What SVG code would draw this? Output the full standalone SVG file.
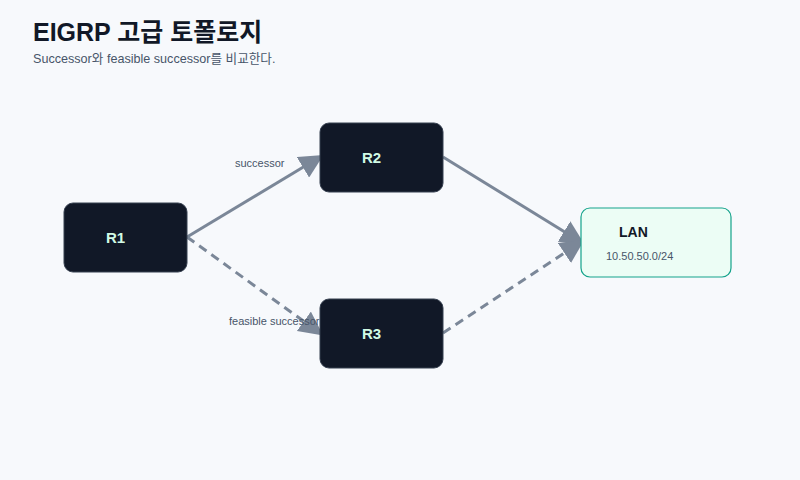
<svg xmlns="http://www.w3.org/2000/svg" width="800" height="480" viewBox="0 0 800 480">
<defs>
<style>
.t{font-family:"Liberation Sans","Noto Sans CJK KR",Arial,sans-serif}
.title{font-size:25px;font-weight:bold;fill:#111827}
.sub{font-size:12.6px;fill:#475569}
.rt{fill:#111827;stroke:#374151;stroke-width:1}
.rl{font-size:15px;font-weight:bold;fill:#d1fae5}
.lan{fill:#ecfdf5;stroke:#14a38b;stroke-width:1.2}
.ll{font-size:14px;font-weight:bold;fill:#111827}
.ls{font-size:11px;fill:#475569}
.e{stroke:#7b8798;stroke-width:3;fill:none;marker-end:url(#ah)}
.d{stroke-dasharray:9 6}
.el{font-size:11px;fill:#475569}
</style>
<marker id="ah" viewBox="0 0 10 10" refX="8.3" refY="5" markerWidth="8" markerHeight="8" orient="auto" markerUnits="strokeWidth">
<path d="M0,0 L10,5 L0,10 z" fill="#7b8798"/>
</marker>
</defs>
<rect width="800" height="480" fill="#f7f9fc"/>
<text class="t title" x="33" y="41">EIGRP 고급 토폴로지</text>
<text class="t sub" x="33" y="63">Successor와 feasible successor를 비교한다.</text>
<g id="connectors">
<line class="e" x1="187" y1="237" x2="320" y2="157"/>
<line class="e d" x1="187" y1="237" x2="320" y2="333"/>
<line class="e" x1="443" y1="157" x2="581" y2="242"/>
<line class="e d" x1="443" y1="333" x2="581" y2="242"/>
<text class="t el" x="235" y="167">successor</text>
<text class="t el" x="229" y="325">feasible successor</text>
</g>
<g id="R1">
<rect class="rt" x="64" y="203" width="123" height="69" rx="9"/>
<text class="t rl" x="106" y="243">R1</text>
</g>
<g id="R2">
<rect class="rt" x="320" y="123" width="123" height="69" rx="9"/>
<text class="t rl" x="362" y="163">R2</text>
</g>
<g id="R3">
<rect class="rt" x="320" y="299" width="123" height="69" rx="9"/>
<text class="t rl" x="362" y="339">R3</text>
</g>
<g id="LAN">
<rect class="lan" x="581" y="208" width="150" height="69" rx="9"/>
<text class="t ll" x="619" y="237">LAN</text>
<text class="t ls" x="606" y="260">10.50.50.0/24</text>
</g>
</svg>
